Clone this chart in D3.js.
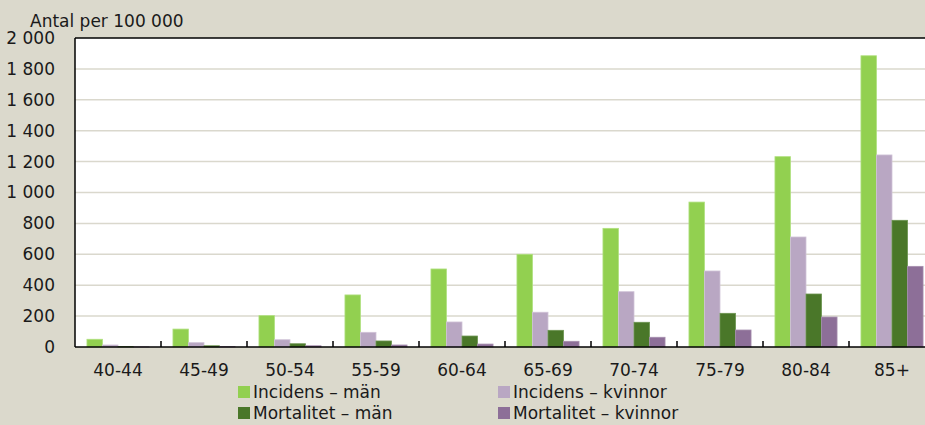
<!DOCTYPE html>
<html>
<head>
<meta charset="utf-8">
<script src="https://cdn.jsdelivr.net/npm/d3@7"></script>
<style>
  html, body { margin: 0; padding: 0; background: #dbd9cc; }
  svg { display: block; font-family: "DejaVu Sans", sans-serif; }
</style>
</head>
<body>
<svg id="chart" width="925" height="425"></svg>
<script>
// age groups and rates per 100 000
const ageGroups = ["40-44", "45-49", "50-54", "55-59", "60-64", "65-69", "70-74", "75-79", "80-84", "85+"];
const incidensMan = [50, 116, 203, 337, 505, 600, 768, 938, 1232, 1885];
const incidensKvinnor = [13, 28, 47, 95, 162, 225, 358, 492, 712, 1243];
const mortalitetMan = [3, 8, 21, 39, 71, 108, 160, 218, 343, 820];
const mortalitetKvinnor = [1, 3, 8, 13, 19, 37, 63, 110, 194, 522];
const yTicks = [0, 200, 400, 600, 800, 1000, 1200, 1400, 1600, 1800, 2000];

const series = [
  { name: "Incidens – män", values: incidensMan, color: "#92d050", edge: "#b0e07f" },
  { name: "Incidens – kvinnor", values: incidensKvinnor, color: "#b9a7c3", edge: "#d0c3d7" },
  { name: "Mortalitet – män", values: mortalitetMan, color: "#4a7729", edge: "#6c9450" },
  { name: "Mortalitet – kvinnor", values: mortalitetKvinnor, color: "#8d6f98", edge: "#a68fae" }
];

const svg = d3.select("#chart");
const plot = { left: 75, top: 38, right: 935, bottom: 347 };

const x = d3.scaleBand().domain(ageGroups).range([plot.left, plot.right]).paddingInner(0).paddingOuter(0);
const xs = d3.scaleBand().domain(series.map(s => s.name)).range([0, x.bandwidth()]).paddingInner(0).paddingOuter(0.77);
const y = d3.scaleLinear().domain([0, 2000]).range([plot.bottom, plot.top]);

const sv = d3.formatLocale({ decimal: ",", thousands: " ", grouping: [3], currency: ["", ""] });
const fmt = sv.format(",d");

// plot background
svg.append("rect")
  .attr("x", plot.left).attr("y", plot.top)
  .attr("width", plot.right - plot.left).attr("height", plot.bottom - plot.top)
  .attr("fill", "#fff");

// gridlines
svg.append("g").selectAll("line").data(yTicks.slice(1, -1)).enter().append("line")
  .attr("x1", plot.left).attr("x2", plot.right)
  .attr("y1", d => y(d)).attr("y2", d => y(d))
  .attr("stroke", "#dad8cd").attr("stroke-width", 1.5);

// bars
const groups = svg.append("g").selectAll("g").data(series).enter().append("g");
groups.selectAll("rect").data(s => s.values.map((v, i) => ({ s, v, i }))).enter().append("rect")
  .attr("x", d => x(ageGroups[d.i]) + xs(d.s.name))
  .attr("y", d => y(d.v))
  .attr("width", xs.bandwidth())
  .attr("height", d => y(0) - y(d.v))
  .attr("fill", d => d.s.color)
  .attr("stroke", d => d.s.edge)
  .attr("stroke-width", 0.8);

// frame lines: top, left
svg.append("line").attr("x1", plot.left).attr("x2", plot.right).attr("y1", plot.top).attr("y2", plot.top)
  .attr("stroke", "#000").attr("stroke-width", 1.5);
svg.append("line").attr("x1", plot.left).attr("x2", plot.left).attr("y1", plot.top).attr("y2", plot.bottom)
  .attr("stroke", "#000").attr("stroke-width", 1.5);

// x axis with ticks between categories pointing up
const xAxis = svg.append("g").attr("transform", `translate(0,${plot.bottom})`);
xAxis.append("line").attr("x1", plot.left).attr("x2", plot.right).attr("stroke", "#000").attr("stroke-width", 1.5);
xAxis.selectAll("line.tick").data(ageGroups.slice(1)).enter().append("line")
  .attr("class", "tick")
  .attr("x1", d => x(d)).attr("x2", d => x(d))
  .attr("y1", 0).attr("y2", -6)
  .attr("stroke", "#000").attr("stroke-width", 1.5);
xAxis.selectAll("text").data(ageGroups).enter().append("text")
  .attr("x", d => x(d) + x.bandwidth() / 2)
  .attr("y", 29)
  .attr("text-anchor", "middle")
  .attr("font-size", 17)
  .attr("fill", "#1a1a1a")
  .text(d => d);

// y axis labels
const yAxis = svg.append("g").attr("transform", `translate(${plot.left},0)`)
  .call(d3.axisLeft(y).tickValues(yTicks).tickFormat(fmt).tickSize(0).tickPadding(20));
yAxis.select(".domain").remove();
yAxis.selectAll("text").attr("font-size", 17).attr("fill", "#1a1a1a").attr("font-family", "DejaVu Sans, sans-serif");

// axis title
svg.append("text").attr("x", 30).attr("y", 27)
  .attr("font-size", 17).attr("fill", "#1a1a1a")
  .text("Antal per 100 000");

// legend
const legendPos = [[238, 392], [498, 392], [238, 413], [498, 413]];
const legendOrder = [0, 1, 2, 3];
const legend = svg.append("g").selectAll("g").data(legendOrder).enter().append("g")
  .attr("transform", (d, i) => `translate(${legendPos[i][0]},${legendPos[i][1]})`);
legend.append("rect").attr("x", 0).attr("y", -6).attr("width", 12).attr("height", 12)
  .attr("fill", d => series[d].color);
legend.append("text").attr("x", 15).attr("y", 6)
  .attr("font-size", 17).attr("fill", "#1a1a1a")
  .text(d => series[d].name);
</script>
</body>
</html>
